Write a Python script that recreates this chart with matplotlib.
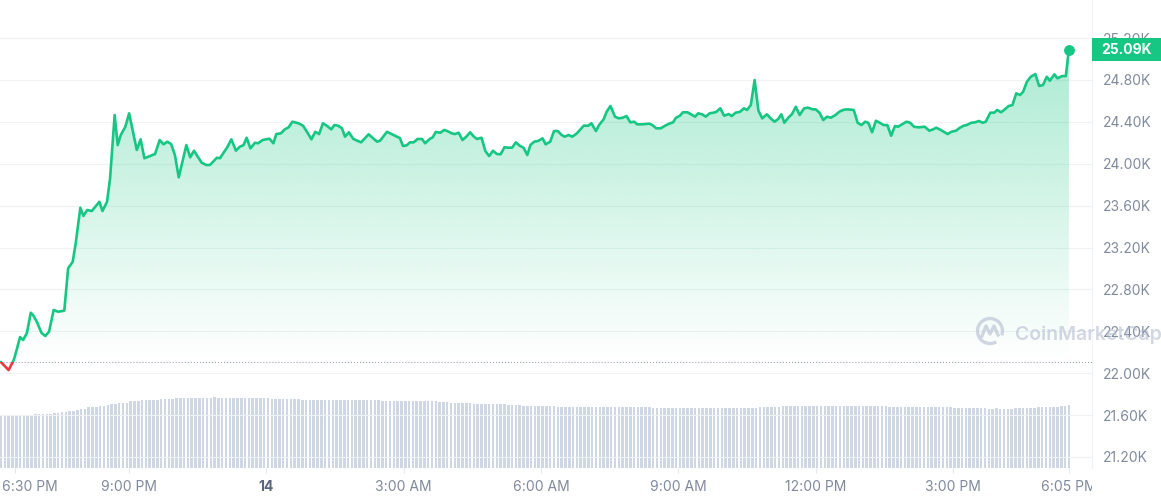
import numpy as np
import matplotlib
matplotlib.use("Agg")
import matplotlib.pyplot as plt
from matplotlib.patches import Rectangle, Arc
from matplotlib.transforms import Bbox, TransformedBbox, blended_transform_factory, offset_copy

# ---------------------------------------------------------------------
# price : minutes after 6:12 PM (13th) -> USD
minutes = [
    0, 10, 16, 18, 23, 25, 29, 34, 39, 42,
    47, 53, 58, 63, 69, 75, 83, 88, 94, 98,
    104, 108, 113, 119, 129, 133, 139, 143, 149, 153,
    157, 163, 168, 178, 183, 188, 202, 208, 213, 218,
    223, 228, 233, 243, 248, 253, 263, 269, 274, 283,
    287, 297, 302, 308, 313, 318, 322, 327, 333, 337,
    343, 352, 357, 361, 367, 372, 377, 382, 390, 396,
    401, 407, 412, 417, 422, 427, 433, 437, 442, 447,
    451, 456, 462, 472, 482, 493, 497, 506, 512, 519,
    523, 527, 532, 536, 541, 546, 552, 556, 562, 566,
    570, 576, 581, 585, 591, 595, 600, 605, 610, 615,
    620, 624, 630, 635, 640, 645, 650, 655, 660, 665,
    670, 675, 680, 685, 690, 694, 699, 704, 710, 714,
    720, 725, 730, 735, 739, 744, 749, 755, 760, 764,
    770, 774, 780, 784, 790, 794, 799, 805, 810, 815,
    820, 825, 830, 834, 840, 850, 854, 859, 865, 870,
    875, 881, 885, 890, 894, 900, 904, 910, 914, 919,
    924, 929, 934, 938, 943, 948, 954, 958, 963, 969,
    974, 978, 983, 988, 993, 998, 1004, 1009, 1014, 1019,
    1023, 1027, 1032, 1037, 1042, 1047, 1053, 1058, 1064, 1068,
    1073, 1078, 1083, 1088, 1094, 1099, 1104, 1109, 1118, 1123,
    1128, 1133, 1137, 1142, 1147, 1152, 1157, 1162, 1167, 1172,
    1176, 1182, 1187, 1192, 1197, 1203, 1211, 1217, 1222, 1226,
    1232, 1236, 1241, 1246, 1252, 1256, 1262, 1266, 1272, 1277,
    1282, 1287, 1291, 1297, 1302, 1306, 1311, 1316, 1321, 1326,
    1331, 1336, 1340, 1345, 1350, 1356, 1361, 1366, 1371, 1375,
    1381, 1385, 1391, 1396, 1400,
]
price = [
    22105, 22030, 22115, 22155, 22288, 22345, 22317, 22384, 22577, 22555,
    22491, 22386, 22355, 22396, 22603, 22587, 22597, 23001, 23064, 23243,
    23580, 23501, 23558, 23548, 23637, 23548, 23637, 23861, 24465, 24178,
    24274, 24353, 24481, 24131, 24233, 24052, 24093, 24226, 24185, 24210,
    24188, 24083, 23870, 24178, 24061, 24124, 24010, 23988, 23988, 24057,
    24052, 24162, 24233, 24124, 24162, 24178, 24248, 24147, 24200, 24195,
    24226, 24239, 24195, 24283, 24290, 24328, 24347, 24401, 24386, 24363,
    24305, 24233, 24305, 24283, 24386, 24363, 24328, 24369, 24363, 24338,
    24258, 24300, 24236, 24204, 24281, 24210, 24220, 24305, 24283, 24258,
    24245, 24169, 24176, 24204, 24204, 24236, 24236, 24195, 24236, 24252,
    24303, 24296, 24322, 24312, 24290, 24283, 24296, 24226, 24258, 24300,
    24258, 24236, 24248, 24121, 24073, 24124, 24093, 24090, 24157, 24153,
    24153, 24204, 24172, 24153, 24083, 24178, 24210, 24217, 24242, 24185,
    24210, 24312, 24312, 24274, 24258, 24274, 24258, 24290, 24331, 24363,
    24363, 24386, 24312, 24369, 24424, 24496, 24551, 24449, 24433, 24439,
    24455, 24395, 24401, 24376, 24376, 24382, 24369, 24338, 24338, 24360,
    24379, 24395, 24439, 24458, 24491, 24491, 24474, 24449, 24481, 24472,
    24449, 24481, 24487, 24496, 24529, 24458, 24474, 24455, 24487, 24496,
    24529, 24513, 24560, 24799, 24506, 24433, 24472, 24433, 24401, 24427,
    24472, 24391, 24439, 24474, 24544, 24465, 24529, 24535, 24519, 24519,
    24487, 24417, 24449, 24439, 24465, 24496, 24513, 24519, 24513, 24391,
    24369, 24401, 24391, 24300, 24410, 24391, 24369, 24369, 24267, 24360,
    24353, 24379, 24401, 24391, 24353, 24347, 24353, 24315, 24328, 24344,
    24322, 24305, 24283, 24305, 24315, 24338, 24363, 24369, 24391, 24395,
    24408, 24391, 24401, 24487, 24487, 24513, 24491, 24519, 24551, 24560,
    24672, 24656, 24687, 24783, 24830, 24856, 24742, 24751, 24830, 24792,
    24853, 24815, 24837, 24837, 25090,
]
open_price = 22110

# 24h volume (bn USD), one bar every 5 minutes
volume = [
    26.0, 26.0, 26.0, 26.0, 26.0, 26.0, 26.5, 26.5, 26.5, 27.0, 27.0, 27.0, 27.0, 27.0, 27.5, 27.5, 28.0, 28.0, 28.5, 28.5,
    29.0, 29.7, 29.7, 30.5, 30.5, 30.5, 31.0, 31.0, 31.7, 32.0, 32.0, 32.7, 32.7, 32.7, 33.5, 33.5, 33.5, 34.0, 34.0, 34.0,
    34.0, 34.0, 34.5, 34.5, 34.5, 34.5, 35.0, 35.0, 35.0, 35.0, 35.0, 35.0, 35.0, 35.0, 35.0, 35.0, 35.5, 35.0, 35.0, 35.0,
    35.0, 35.0, 35.0, 35.0, 35.0, 35.0, 35.0, 35.0, 35.0, 35.0, 35.0, 34.5, 34.5, 34.5, 34.5, 34.5, 34.5, 34.5, 34.5, 34.0,
    34.0, 34.0, 34.0, 34.0, 34.0, 34.0, 34.0, 34.0, 34.0, 34.0, 34.0, 34.0, 34.0, 34.0, 34.0, 34.0, 34.0, 34.0, 34.0, 34.0,
    33.5, 33.5, 33.5, 33.5, 33.5, 33.5, 33.5, 33.5, 33.5, 33.5, 33.5, 33.5, 33.5, 33.5, 33.5, 33.0, 33.0, 33.0, 32.5, 32.5,
    32.5, 32.5, 32.5, 32.5, 32.0, 32.0, 32.0, 32.0, 32.0, 32.0, 32.0, 32.0, 32.0, 31.5, 31.5, 31.5, 31.5, 31.0, 31.0, 31.0,
    31.0, 31.0, 31.0, 31.0, 31.0, 31.0, 30.5, 30.5, 30.5, 30.5, 30.5, 30.5, 30.5, 30.5, 30.5, 30.5, 30.5, 30.5, 30.5, 30.5,
    30.5, 30.5, 30.5, 30.5, 30.5, 30.5, 30.5, 30.5, 30.5, 30.5, 30.5, 30.0, 30.0, 30.0, 30.0, 30.0, 30.0, 30.0, 30.0, 30.0,
    30.0, 30.0, 30.0, 30.0, 30.0, 30.0, 30.0, 30.0, 30.0, 30.0, 30.0, 30.0, 30.0, 30.0, 30.0, 30.0, 30.0, 30.0, 30.0, 30.5,
    30.5, 30.5, 30.5, 30.5, 30.5, 31.0, 31.0, 31.0, 31.0, 31.0, 31.0, 31.0, 31.0, 31.0, 31.0, 31.0, 31.0, 31.0, 31.0, 31.0,
    31.0, 31.0, 31.0, 31.0, 31.0, 31.0, 31.0, 31.0, 31.0, 31.0, 31.0, 31.0, 31.0, 30.5, 30.5, 30.5, 30.5, 30.5, 30.5, 30.5,
    30.5, 30.5, 30.5, 30.5, 30.5, 30.5, 30.5, 30.5, 30.5, 30.5, 30.0, 30.0, 30.0, 30.0, 30.0, 30.0, 30.0, 30.0, 30.0, 29.5,
    29.5, 30.0, 29.5, 29.5, 29.5, 29.5, 30.0, 30.0, 30.0, 30.0, 30.0, 30.0, 30.5, 30.5, 30.5, 30.5, 30.5, 30.5, 31.0, 31.0,
    31.5,
]

tick_minutes = [18, 168, 348, 528, 708, 888, 1068, 1248, 1400]
tick_labels = ["6:30 PM", "9:00 PM", "14", "3:00 AM", "6:00 AM",
               "9:00 AM", "12:00 PM", "3:00 PM", "6:05 PM"]
price_ticks = [21200, 21600, 22000, 22400, 22800, 23200, 23600, 24000, 24400, 24800, 25200]

GREEN = "#16c784"
RED = "#ea3943"
TXT = "#808a9d"
GRID = "#eff2f5"
BAR = "#cfd6e4"
MARK = "#b4bdd0"

plt.rcParams["font.family"] = ["Inter", "DejaVu Sans"]

fig = plt.figure(figsize=(11.61, 5.0), dpi=100)
ax = fig.add_axes([0, 31.7 / 500, 1092 / 1161, 468.3 / 500])
vax = ax.twinx()
ax.set_zorder(vax.get_zorder() + 1)
ax.patch.set_visible(False)

# volume bars
bar_t = np.arange(len(volume)) * 5
vax.bar(bar_t, volume, width=3.3, color=BAR, linewidth=0)
vax.set_ylim(0, 234.15)
vax.set_yticks([])
for s in vax.spines.values():
    s.set_visible(False)

# gradient fill under the price
grad = np.zeros((256, 1, 4))
grad[..., :3] = matplotlib.colors.to_rgb(GREEN)
grad[:, 0, 3] = np.linspace(0.36, 0.0, 256)
img = ax.imshow(grad, extent=[minutes[0], minutes[-1], open_price, max(price)],
                aspect="auto", origin="upper", zorder=1, interpolation="bilinear")
poly = ax.fill_between(minutes, price, open_price, facecolor="none", edgecolor="none")
img.set_clip_path(poly.get_paths()[0], transform=ax.transData)

# line, green above open / red below
up, = ax.plot(minutes, price, color=GREEN, lw=1.9, zorder=3, solid_joinstyle="round")
up.set_clip_path(Rectangle((-100, open_price), 2000, 10000, transform=ax.transData))
dn, = ax.plot(minutes, price, color=RED, lw=1.9, zorder=3, solid_joinstyle="round")
dn.set_clip_path(Rectangle((-100, open_price - 10000), 2000, 10000, transform=ax.transData))
ax.plot(minutes[-1], price[-1], "o", ms=6.8, color=GREEN, zorder=4, clip_on=False)

ax.axhline(open_price, color="#949eb0", lw=0.75, ls=(0, (1, 1.9)), zorder=2)

ax.set_xlim(-1.31, 1430.3)
ax.set_ylim(21092, 25563)

# y axis on the right
ax.set_yticks(price_ticks)
ax.set_yticklabels([f"{v / 1000:.2f}K" for v in price_ticks])
ax.yaxis.tick_right()
ax.tick_params(axis="y", length=0, pad=7.9, labelsize=10, labelcolor=TXT)
ax.yaxis.grid(True, color=GRID, lw=0.8)
ax.set_axisbelow(True)
for side in ["top", "left", "bottom"]:
    ax.spines[side].set_visible(False)
ax.spines["right"].set_color(GRID)
ax.spines["right"].set_linewidth(0.8)

# x axis: small ticks + own labels
ax.set_xticks(tick_minutes)
ax.set_xticklabels([])
ax.tick_params(axis="x", length=3.5, width=0.8, color="#e4e7ec")
clip = TransformedBbox(Bbox([[0, -0.2], [1, 1]]), ax.transAxes)
trans = offset_copy(blended_transform_factory(ax.transData, ax.transAxes),
                    fig=fig, y=-19, units="dots")
for i, (m, lbl) in enumerate(zip(tick_minutes, tick_labels)):
    kw = dict(ha="center", va="center", fontsize=10, color=TXT)
    if lbl == "14":
        kw.update(color="#58667e", fontweight="bold")
    if i == 0:
        t = ax.text(0, 0, lbl, transform=offset_copy(ax.transAxes, fig=fig, x=1.5, y=-19, units="dots"),
                    ha="left", va="center", fontsize=10, color=TXT)
    else:
        t = ax.text(m, 0, lbl, transform=trans, **kw)
    t.set_clip_box(clip)
    t.set_clip_on(True)

# last price tag
tag_tr = blended_transform_factory(ax.transAxes, ax.transData)
ax.add_patch(Rectangle((1.0, price[-1] - 108), 1161 / 1092 - 1.0, 216,
                       transform=tag_tr, facecolor=GREEN, edgecolor="none",
                       clip_on=False, zorder=6))
ax.text(1.0 + (1161 / 1092 - 1.0) / 2, price[-1], f"{price[-1] / 1000:.2f}K",
        transform=tag_tr, ha="center", va="center", color="white",
        fontsize=10, fontweight="bold", zorder=7, clip_on=False)

# watermark
fig.patches.append(Arc((9.90, 1.69), 0.25, 0.25, theta1=-20, theta2=300,
                       transform=fig.dpi_scale_trans, edgecolor=MARK, lw=2.4, alpha=0.6))
fig.lines.append(plt.Line2D([9.82, 9.86, 9.90, 9.94, 9.98], [1.64, 1.74, 1.66, 1.74, 1.65],
                            transform=fig.dpi_scale_trans, color=MARK, lw=2.4, alpha=0.6))
fig.text(1015 / 1161, 1 - 335 / 500, "CoinMarketCap", ha="left", va="center",
         fontsize=14, fontweight="semibold", color=MARK, alpha=0.6)

fig.savefig("out.png", dpi=100)
